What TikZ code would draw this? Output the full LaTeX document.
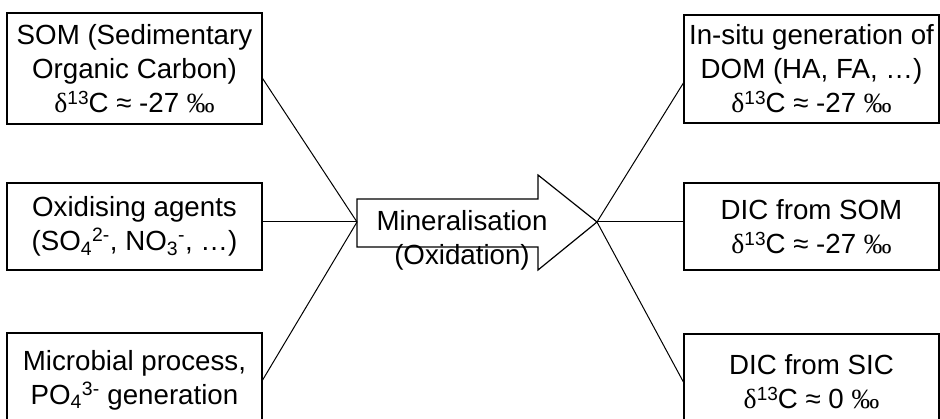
\documentclass[tikz,border=0pt]{standalone}
\usepackage{fontspec}
\setmainfont{Liberation Sans}
\newfontfamily\grkfont{Liberation Serif}
\newcommand{\dC}{{\grkfont δ}\raisebox{8pt}{\fontsize{19}{19}\selectfont 13}C}
\newcommand{\permil}{{\grkfont ‰}}

\begin{document}
\begin{tikzpicture}[
		x=1pt, y=-1pt,
		line width=1pt,
		every node/.style={font=\fontsize{27.7}{34}\selectfont, align=center, inner sep=0pt},
		box/.style={rectangle, draw, line width=1.2pt, minimum width=255pt}
	]
  \useasboundingbox (0,0) rectangle (940,419);
  \node (som) [box, minimum height=111pt] at (134.5,68.5) {SOM (Sedimentary\\Organic Carbon)\\\dC{} ≈ -27 \permil};
  \node (oxid) [box, minimum height=87pt] at (134.5,226.5) {Oxidising agents\\(SO\textsubscript{4}\textsuperscript{2-}, NO\textsubscript{3}\textsuperscript{-}, …)};
  \node (microb) [box, minimum height=94pt] at (134.5,380) {Microbial process,\\PO\textsubscript{4}\textsuperscript{3-} generation};
  \node (insitu) [box, minimum height=108pt] at (811.5,69) {In-situ generation of\\DOM (HA, FA, …)\\\dC{} ≈ -27 \permil};
  \node (dic_som) [box, minimum height=87pt] at (811.5,226.5) {DIC from SOM\\\dC{} ≈ -27 \permil};
  \node (dic_sic) [box, minimum height=96pt] at (811.5,382) {DIC from SIC\\\dC{} ≈ 0 \permil};
  \coordinate (tail) at (357,222);
  \coordinate (tip) at (597,222);
  \draw [line width=1.2pt] (tail) ++(0,-23) -- ++(181,0) -- ++(0,-24) -- (tip) -- ++(-59,48) -- ++(0,-23) -- ++(-181,0) -- cycle;
  \node (mineral) at (462,240) {Mineralisation\\(Oxidation)};
  \draw ([yshift=-10pt]som.east) -- (tail);
  \draw (oxid.east |- tail) -- (tail);
  \draw (microb.east) -- (tail);
  \draw (tip) -- ([yshift=-14pt]insitu.west);
  \draw (tip) -- (dic_som.west |- tip);
  \draw (tip) -- (dic_sic.west);
\end{tikzpicture}
\end{document}
